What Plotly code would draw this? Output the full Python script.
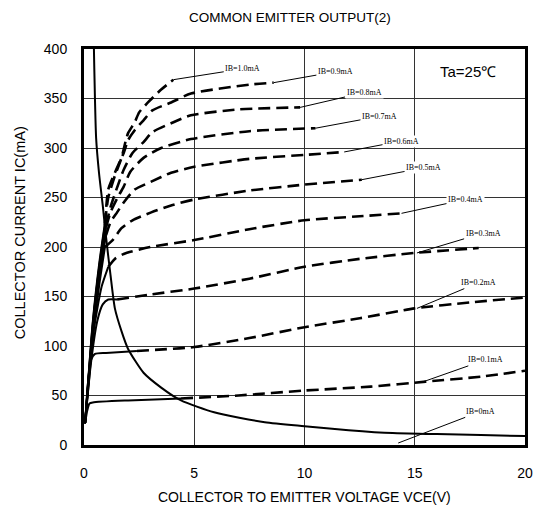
import plotly.graph_objects as go

# ---------------- data ----------------
ib_labels = ["IB=1.0mA", "IB=0.9mA", "IB=0.8mA", "IB=0.7mA", "IB=0.6mA",
             "IB=0.5mA", "IB=0.4mA", "IB=0.3mA", "IB=0.2mA", "IB=0.1mA"]

# solid (measured) portion of each curve
solid_v = {
    "IB=1.0mA": [0.05, 0.4, 0.7, 0.95],
    "IB=0.9mA": [0.05, 0.4, 0.7, 0.95],
    "IB=0.8mA": [0.05, 0.4, 0.7, 1.0],
    "IB=0.7mA": [0.05, 0.4, 0.7, 1.0],
    "IB=0.6mA": [0.05, 0.4, 0.7, 1.0],
    "IB=0.5mA": [0.05, 0.45, 0.7, 0.95],
    "IB=0.4mA": [0.05, 0.4, 0.8, 1.1],
    "IB=0.3mA": [0.05, 0.3, 0.6, 0.85, 1.1, 1.5],
    "IB=0.2mA": [0.05, 0.18, 0.32, 0.5, 1.0, 2.4],
    "IB=0.1mA": [0.05, 0.15, 0.25, 0.4, 2.0, 4.4],
}
solid_i = {
    "IB=1.0mA": [22, 125, 185, 224],
    "IB=0.9mA": [22, 123, 182, 222],
    "IB=0.8mA": [22, 120, 180, 222],
    "IB=0.7mA": [22, 118, 178, 220],
    "IB=0.6mA": [22, 115, 172, 212],
    "IB=0.5mA": [22, 118, 163, 200],
    "IB=0.4mA": [22, 110, 160, 180],
    "IB=0.3mA": [22, 80, 125, 142, 147, 147],
    "IB=0.2mA": [22, 63, 86, 92, 93, 95],
    "IB=0.1mA": [22, 35, 42, 43, 45, 47],
}

# dashed (extrapolated) portion of each curve
dash_v = {
    "IB=1.0mA": [0.95, 1.1, 1.4, 1.7, 1.9, 2.0, 2.3, 2.5, 2.9, 3.5, 4.05],
    "IB=0.9mA": [0.95, 1.1, 1.4, 1.8, 2.0, 2.3, 2.7, 3.1, 3.95, 4.85, 7.5, 8.6],
    "IB=0.8mA": [1.0, 1.2, 1.5, 1.8, 2.2, 2.7, 3.1, 3.95, 4.85, 7.0, 9.8],
    "IB=0.7mA": [1.0, 1.2, 1.5, 1.8, 2.1, 2.7, 3.5, 4.85, 7.5, 10.5],
    "IB=0.6mA": [1.0, 1.2, 1.5, 1.8, 2.3, 3.05, 3.95, 5.0, 7.5, 10.0, 11.8],
    "IB=0.5mA": [0.95, 1.3, 1.7, 2.2, 3.05, 3.95, 5.0, 7.5, 10.0, 12.6],
    "IB=0.4mA": [1.1, 1.4, 1.8, 3.0, 5.0, 7.5, 10.0, 12.5, 14.4],
    "IB=0.3mA": [1.5, 3.0, 5.0, 7.5, 10.0, 12.5, 15.0, 17.9],
    "IB=0.2mA": [2.4, 5.0, 7.5, 10.0, 12.5, 15.0, 17.5, 20.0],
    "IB=0.1mA": [4.4, 7.0, 10.0, 13.0, 15.5, 18.0, 20.0],
}
dash_i = {
    "IB=1.0mA": [224, 250, 272, 290, 308, 315, 326, 336, 346, 359, 369],
    "IB=0.9mA": [222, 258, 275, 295, 308, 318, 328, 338, 346, 355, 364, 366],
    "IB=0.8mA": [222, 240, 260, 278, 295, 306, 316, 325, 333, 339, 341],
    "IB=0.7mA": [220, 235, 249, 261, 276, 290, 300, 309, 317, 320],
    "IB=0.6mA": [212, 225, 235, 245, 258, 266, 275, 281, 289, 293, 296],
    "IB=0.5mA": [200, 207, 219, 227, 235, 242, 248, 257, 263, 268],
    "IB=0.4mA": [180, 188, 193, 200, 207, 218, 227, 231, 234],
    "IB=0.3mA": [147, 152, 158, 168, 180, 188, 194, 199],
    "IB=0.2mA": [95, 99, 108, 119, 128, 138, 144, 149],
    "IB=0.1mA": [47, 50, 55, 59, 64, 69, 75],
}

# power-dissipation (hyperbola-like) curve
pc_v = [0.45, 0.55, 0.68, 0.86, 1.0, 1.2, 1.4, 1.7, 2.0, 2.7, 3.5, 4.4,
        5.9, 8.2, 10.0, 12.0, 14.0, 16.0, 18.0, 20.0]
pc_i = [400, 310, 275, 240, 210, 172, 138, 115, 97, 73, 58, 45,
        33, 23, 19, 15, 12, 11, 10, 9]

# label anchor (point on curve) and text position
label_names = ["IB=1.0mA", "IB=0.9mA", "IB=0.8mA", "IB=0.7mA", "IB=0.6mA",
               "IB=0.5mA", "IB=0.4mA", "IB=0.3mA", "IB=0.2mA", "IB=0.1mA", "IB=0mA"]
label_pt_v = [4.05, 8.6, 9.8, 10.5, 11.8, 12.6, 14.4, 15.1, 15.1, 15.4, 14.25]
label_pt_i = [369, 366, 341, 320, 296, 268, 234, 194, 138, 64, 2]
label_tx_v = [7.2, 11.4, 12.7, 13.4, 14.4, 15.4, 17.3, 18.1, 17.9, 18.2, 18.0]
label_tx_i = [380, 377, 356, 332, 307, 280, 248, 214, 164, 86, 34]

x_ticks = [0, 5, 10, 15, 20]
y_ticks = [0, 50, 100, 150, 200, 250, 300, 350, 400]

# ---------------- figure ----------------
fig = go.Figure()

for name in ib_labels:
    fig.add_trace(go.Scatter(
        x=solid_v[name], y=solid_i[name], mode="lines",
        line=dict(color="black", width=2, shape="spline", smoothing=0.6),
        showlegend=False, hoverinfo="skip"))
    fig.add_trace(go.Scatter(
        x=dash_v[name], y=dash_i[name], mode="lines",
        line=dict(color="black", width=2.6, dash="12px,6px",
                  shape="spline", smoothing=0.6),
        showlegend=False, hoverinfo="skip"))

fig.add_trace(go.Scatter(
    x=pc_v, y=pc_i, mode="lines",
    line=dict(color="black", width=2, shape="spline", smoothing=0.6),
    showlegend=False, hoverinfo="skip"))

annotations = []
for n, pv, pi, tv, ti in zip(label_names, label_pt_v, label_pt_i, label_tx_v, label_tx_i):
    annotations.append(dict(
        x=pv, y=pi, xref="x", yref="y",
        ax=tv, ay=ti, axref="x", ayref="y",
        text=n, showarrow=True, arrowhead=0, arrowwidth=1, arrowcolor="black",
        font=dict(family="Liberation Serif", size=8, color="black"),
        bgcolor="white", borderpad=1, standoff=0, startstandoff=0))

annotations.append(dict(
    x=17.4, y=377, xref="x", yref="y", text="Ta=25℃", showarrow=False,
    font=dict(family="Liberation Sans", size=15, color="black")))

# chart title and axis titles (paper coordinates)
annotations.append(dict(
    x=0.467, y=1.079, xref="paper", yref="paper", xanchor="center", yanchor="middle",
    text="COMMON EMITTER OUTPUT(2)", showarrow=False,
    font=dict(family="Liberation Sans", size=13.5, color="black")))
annotations.append(dict(
    x=0.5, y=-0.132, xref="paper", yref="paper", xanchor="center", yanchor="middle",
    text="COLLECTOR TO EMITTER VOLTAGE VCE(V)", showarrow=False,
    font=dict(family="Liberation Sans", size=14, color="black")))
annotations.append(dict(
    x=-0.145, y=0.535, xref="paper", yref="paper", xanchor="center", yanchor="middle",
    text="COLLECTOR CURRENT IC(mA)", showarrow=False, textangle=-90,
    font=dict(family="Liberation Sans", size=14.5, color="black")))

# the page body has an 8px margin, so the figure is 8px smaller than the window
fig.update_layout(
    width=534, height=508,
    margin=dict(l=76, r=17, t=41, b=71),
    paper_bgcolor="white", plot_bgcolor="white",
    annotations=annotations,
    font=dict(family="Liberation Sans", color="black"),
)

fig.update_xaxes(
    range=[0, 20], tickvals=x_ticks, ticktext=[str(t) for t in x_ticks],
    showgrid=True, gridcolor="#333333", gridwidth=1.2,
    showline=True, linecolor="black", linewidth=3, mirror=True,
    zeroline=False, ticks="", ticklabelstandoff=13, automargin=False,
    tickfont=dict(size=14, color="black"))

fig.update_yaxes(
    range=[0, 400], tickvals=y_ticks, ticktext=[str(t) for t in y_ticks],
    showgrid=True, gridcolor="#333333", gridwidth=1.2,
    showline=True, linecolor="black", linewidth=3, mirror=True,
    zeroline=False, ticks="", ticklabelstandoff=11, automargin=False,
    tickfont=dict(size=14, color="black"))

fig.write_html("out.html")
